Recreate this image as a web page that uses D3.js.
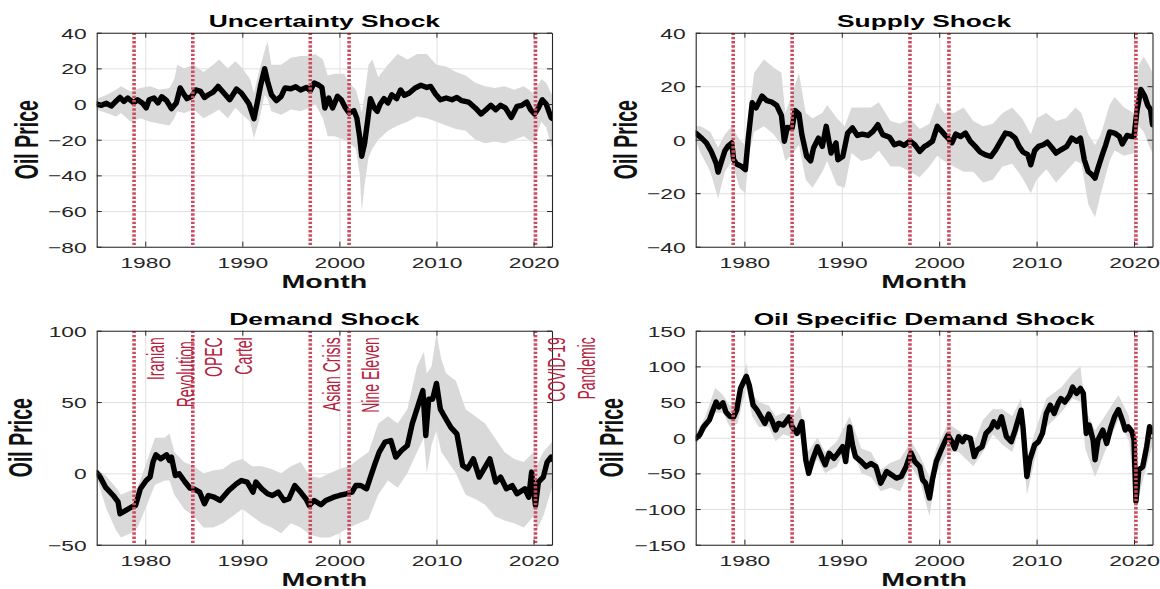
<!DOCTYPE html>
<html>
<head>
<meta charset="utf-8">
<script src="https://cdn.jsdelivr.net/npm/d3@7"></script>
<style>
  html, body { margin: 0; padding: 0; background: #fff; }
  svg { display: block; }
  text { font-family: "Liberation Sans", Arial, Helvetica, sans-serif; }
</style>
</head>
<body>
<svg id="chart" width="1160" height="589"></svg>
<script>
// ---- Data -----------------------------------------------------------------
// Decimal-year time axis shared by all panels
const xDomain = [1975.0, 2021.9];
const yearTicks = [1980, 1990, 2000, 2010, 2020];

// Historical episodes marked with dotted vertical lines
const eventYears = [1978.85, 1984.9, 1997.0, 2001.0, 2020.2];
const eventLabels = [["Iranian", "Revolution."], ["OPEC", "Cartel"], ["Asian Crisis"], ["Nine Eleven"], ["COVID-19", "Pandemic"]];

// Uncertainty shock: [year, response]
const uncertaintyLine = [[1975.0,0],[1975.5,-0.7],[1976.0,0.4],[1976.5,-1.1],[1976.9,1.1],[1977.4,3.7],[1977.8,1.5],[1978.2,3.4],[1978.8,0.7],[1979.2,2.4],[1979.7,0.6],[1980.1,-2.2],[1980.4,2.4],[1980.9,3.4],[1981.3,0.6],[1981.7,4.1],[1982.2,1.9],[1982.7,-2.6],[1983.2,0.6],[1983.6,9.0],[1983.9,6.2],[1984.3,3.0],[1984.8,4.3],[1985.2,7.9],[1985.7,7.1],[1986.1,3.7],[1986.5,5.2],[1987.0,6.7],[1987.5,9.9],[1988.1,6.2],[1988.7,2.4],[1989.4,8.4],[1989.9,6.2],[1990.4,2.4],[1990.7,0],[1991.2,-8.2],[1991.6,2.4],[1991.9,10.8],[1992.3,19.8],[1992.6,12.7],[1993.0,5.2],[1993.5,1.9],[1994.0,4.3],[1994.4,9.0],[1995.0,8.6],[1995.5,9.7],[1996.0,7.9],[1996.6,9.3],[1997.0,7.5],[1997.4,11.8],[1997.9,10.5],[1998.2,9.3],[1998.5,-2.2],[1998.9,3.4],[1999.3,-2.2],[1999.8,4.3],[2000.2,2.4],[2000.6,-1.9],[2001.0,-5.0],[2001.5,-3.7],[2001.8,-7.9],[2002.1,-19],[2002.3,-29.3],[2002.6,-21.9],[2002.9,-9.7],[2003.2,3.0],[2003.6,-2.2],[2003.9,-4.1],[2004.2,0],[2004.6,3.0],[2005.0,0.6],[2005.4,5.2],[2005.9,3.0],[2006.3,7.9],[2006.7,4.9],[2007.2,6.2],[2007.8,9.0],[2008.4,10.5],[2009.0,9.3],[2009.4,9.9],[2009.9,5.6],[2010.4,2.4],[2011.0,3.4],[2011.6,2.4],[2012.1,3.7],[2012.6,1.9],[2013.3,1.1],[2014.0,-2.2],[2014.6,-5.6],[2015.1,-3.2],[2015.6,-0.7],[2016.1,-3.2],[2016.6,-0.7],[2017.1,-2.2],[2017.7,-7.5],[2018.3,-1.3],[2018.8,-0.7],[2019.3,1.1],[2019.7,-3.2],[2020.1,-5.6],[2020.5,-2.2],[2020.9,2.4],[2021.3,0],[2021.8,-7.5],[2021.9,-8]];
// Uncertainty shock band: [year, lower, upper]
const uncertaintyBand = [[1975.0,-3,3],[1976.0,-5,5],[1977.0,-7,8],[1977.5,-5,10],[1978.5,-10,7],[1979.5,-8,9],[1980.5,-10,10],[1981.5,-11,8],[1982.5,-12,9],[1983.0,-8,14],[1983.3,-4,22],[1984.0,-5,20],[1985.0,-3,22],[1986.0,-8,18],[1987.0,-5,22],[1987.6,-3,25],[1988.5,-8,20],[1989.3,-2,24],[1990.0,-6,20],[1990.8,-10,14],[1991.2,-19,6],[1991.7,-10,18],[1992.3,5,30],[1992.6,3,35],[1993.0,-4,22],[1994.0,-6,22],[1995.0,-3,26],[1996.0,-4,27],[1997.0,-2,27],[1997.5,0,28],[1998.3,-8,25],[1998.8,-18,16],[1999.5,-18,17],[2000.5,-20,17],[2001.0,-22,12],[2001.7,-25,8],[2002.1,-40,0],[2002.3,-60,-5],[2002.6,-45,5],[2003.0,-30,22],[2003.4,-25,25],[2004.0,-20,15],[2005.0,-15,22],[2006.0,-12,28],[2007.0,-10,25],[2008.0,-7,28],[2009.0,-8,28],[2010.0,-10,22],[2011.0,-12,21],[2012.0,-14,18],[2013.0,-15,16],[2014.0,-20,12],[2015.0,-22,10],[2016.0,-21,9],[2017.0,-22,10],[2018.0,-20,8],[2019.0,-18,10],[2020.0,-22,6],[2020.8,-10,14],[2021.3,-13,12],[2021.9,-25,5]];
const uncertaintyTicks = [-80, -60, -40, -20, 0, 20, 40];

// Supply shock
const supplyLine = [[1975.0,2.5],[1975.6,0.6],[1976.1,-1.2],[1976.6,-4.4],[1977.1,-8.8],[1977.3,-12.1],[1977.7,-7.5],[1978.0,-4.1],[1978.3,-2.5],[1978.7,-1.2],[1978.9,-7.5],[1979.2,-9.1],[1979.7,-10],[1980.1,-11.2],[1980.4,0.6],[1980.8,13.8],[1981.2,11.9],[1981.8,16.3],[1982.3,14.6],[1982.8,14.1],[1983.3,12.9],[1983.8,9.1],[1984.1,-0.6],[1984.4,4.6],[1984.9,4.4],[1985.2,10.9],[1985.6,9.6],[1985.9,1.9],[1986.4,-6.3],[1986.8,-7.9],[1987.1,-3.1],[1987.6,0.6],[1988.0,-2.5],[1988.4,5.0],[1988.9,-5],[1989.4,-1.2],[1989.6,-7.5],[1990.1,-6.3],[1990.6,2.5],[1991.1,4.4],[1991.6,1.6],[1992.1,2.1],[1992.7,1.6],[1993.2,3.1],[1993.7,5.6],[1994.2,1.9],[1994.9,0.9],[1995.4,-1.9],[1995.9,-1.2],[1996.4,-2.1],[1997.0,-0.4],[1997.5,-1.9],[1998.0,-4.4],[1998.5,-2.5],[1998.8,-1.9],[1999.3,-0.6],[1999.8,5.0],[2000.2,3.4],[2000.5,2.1],[2000.9,0.6],[2001.3,-1.2],[2001.7,2.1],[2002.2,1.2],[2002.7,2.5],[2003.2,-0.6],[2003.7,-2.5],[2004.2,-4.6],[2004.7,-5.6],[2005.3,-6.3],[2005.8,-3.8],[2006.3,-0.6],[2006.8,2.5],[2007.3,2.1],[2007.8,0.6],[2008.2,-2.5],[2008.6,-4.6],[2009.1,-5.6],[2009.4,-9.4],[2009.8,-4.1],[2010.2,-2.5],[2010.7,-1.9],[2011.1,-0.9],[2011.6,-3.1],[2012.0,-5.0],[2012.5,-3.8],[2013.1,-2.5],[2013.6,0.6],[2014.1,-0.6],[2014.5,0.6],[2014.9,-7.5],[2015.3,-11.9],[2015.7,-13.1],[2016.0,-14.4],[2016.3,-10.6],[2016.8,-5],[2017.1,-1.9],[2017.5,2.9],[2018.0,2.5],[2018.5,1.2],[2018.8,-1.6],[2019.3,1.6],[2019.7,1.2],[2020.0,1.2],[2020.3,10.6],[2020.7,18.8],[2021.1,16.3],[2021.4,12.9],[2021.7,11.3],[2021.9,5.6]];
const supplyBand = [[1975.0,0,5],[1975.5,-5,5],[1976.5,-12,3],[1977.3,-22,-3],[1978.0,-12,2],[1978.7,-8,5],[1979.5,-18,0],[1980.1,-20,-2],[1980.5,-5,10],[1981.0,3,25],[1982.0,5,30],[1983.0,2,27],[1983.8,-2,25],[1984.2,-8,10],[1985.0,-5,18],[1985.6,-2,25],[1986.3,-15,10],[1987.0,-18,8],[1988.0,-12,10],[1988.5,-8,13],[1989.5,-17,8],[1990.3,-18,5],[1991.0,-5,12],[1992.0,-8,12],[1993.0,-7,12],[1993.8,-4,14],[1995.0,-10,7],[1996.0,-10,6],[1997.0,-12,8],[1998.0,-14,4],[1999.0,-10,6],[1999.8,-6,14],[2000.5,-8,10],[2001.5,-10,10],[2002.5,-12,12],[2003.5,-12,7],[2004.5,-16,5],[2005.5,-15,6],[2006.5,-10,10],[2007.5,-9,12],[2008.5,-14,8],[2009.4,-20,2],[2010.0,-15,8],[2011.0,-11,10],[2012.0,-16,7],[2013.0,-12,8],[2014.0,-8,12],[2014.6,-9,10],[2015.3,-24,2],[2016.0,-29,-2],[2016.6,-20,2],[2017.5,-8,13],[2018.0,-4,16],[2019.0,-6,12],[2020.0,-5,10],[2020.5,5,28],[2021.0,3,31],[2021.5,-2,28],[2021.9,-5,25]];
const supplyTicks = [-40, -20, 0, 20, 40];

// Demand shock
const demandLine = [[1975.0,0.5],[1975.4,-3],[1975.9,-9.6],[1976.7,-15.5],[1977.2,-20],[1977.4,-28.3],[1978.0,-26],[1978.6,-23.6],[1979.0,-22.5],[1979.5,-10.8],[1980.1,-5],[1980.5,-2.6],[1980.8,7.9],[1981.1,13],[1981.6,10.2],[1982.2,13],[1982.5,9],[1982.7,11.4],[1983.1,-1.5],[1983.5,-0.3],[1984.1,-6.1],[1984.6,-10.3],[1985.0,-10.8],[1985.6,-13.1],[1986.1,-21.3],[1986.5,-15.5],[1987.1,-16.7],[1987.7,-19],[1988.0,-16.7],[1988.6,-12],[1989.4,-7.3],[1989.9,-5],[1990.5,-6.1],[1991.1,-13.1],[1991.4,-6.1],[1992.0,-10.8],[1992.6,-14.3],[1993.1,-15.5],[1993.7,-13.1],[1994.3,-19],[1994.8,-17.8],[1995.4,-8.5],[1996.0,-13.1],[1996.6,-18.3],[1996.9,-22.5],[1997.4,-19],[1998.1,-22],[1998.6,-19],[1999.4,-16.7],[2000.0,-15.5],[2000.7,-14.3],[2001.3,-13.1],[2001.7,-8.5],[2002.2,-8.5],[2002.8,-10.8],[2003.2,-2.6],[2003.6,5.5],[2004.1,14.9],[2004.7,21.9],[2005.3,23],[2005.8,11.4],[2006.4,16],[2007.0,19.5],[2007.5,34.7],[2008.1,47.5],[2008.6,58],[2008.9,26.5],[2009.2,52],[2009.6,52],[2010.0,63],[2010.4,45],[2010.9,39],[2011.5,32],[2012.1,27.7],[2012.7,5.5],[2013.2,3.2],[2013.8,10.2],[2014.4,-2.6],[2014.9,3.2],[2015.5,10.2],[2016.1,-6.1],[2016.6,-2.6],[2017.2,-10.8],[2017.8,-8.5],[2018.3,-14.3],[2019.1,-10.8],[2019.5,-16.7],[2019.8,0.9],[2020.2,-22.5],[2020.5,-6.1],[2021.0,-2.6],[2021.4,7.9],[2021.8,11.4],[2021.9,10]];
const demandBand = [[1975.0,-3,3],[1976.0,-25,-2],[1977.0,-40,-10],[1977.5,-45,-15],[1978.5,-42,-12],[1979.2,-38,-10],[1980.0,-25,5],[1981.0,-8,25],[1982.0,-5,25],[1982.5,-5,28],[1983.0,-15,15],[1984.0,-25,8],[1985.0,-30,5],[1986.0,-38,0],[1987.0,-38,2],[1988.0,-35,3],[1989.0,-30,8],[1990.0,-25,10],[1991.0,-30,5],[1992.0,-35,5],[1993.0,-38,3],[1994.0,-42,0],[1995.0,-35,5],[1996.0,-38,8],[1997.0,-43,-2],[1998.0,-45,-3],[1999.0,-45,0],[2000.0,-42,3],[2001.0,-38,5],[2002.0,-35,10],[2003.0,-32,15],[2004.0,-15,35],[2005.0,-5,40],[2006.0,-10,35],[2007.0,0,45],[2008.0,15,75],[2008.7,25,85],[2009.0,0,70],[2009.5,20,75],[2010.0,30,98],[2010.5,15,80],[2011.0,10,70],[2012.0,0,65],[2013.0,-15,45],[2014.0,-18,40],[2015.0,-22,35],[2016.0,-30,25],[2017.0,-33,15],[2018.0,-35,10],[2019.0,-38,8],[2020.0,-30,15],[2020.3,-40,5],[2021.0,-30,15],[2021.9,-10,22]];
const demandTicks = [-50, 0, 50, 100];

// Oil specific demand shock
const oilSpecificLine = [[1975.0,-1],[1975.4,3.7],[1975.8,15],[1976.1,20],[1976.4,24.7],[1976.7,36],[1977.1,50],[1977.4,43],[1977.8,49],[1978.1,36],[1978.5,30],[1978.9,29],[1979.2,38.6],[1979.6,69],[1979.9,78],[1980.2,86],[1980.5,73.5],[1980.9,45.6],[1981.3,38.6],[1981.8,27],[1982.1,20],[1982.5,33],[1982.8,24.7],[1983.2,10.7],[1983.5,20],[1984.0,17.7],[1984.6,29],[1984.9,15],[1985.4,6],[1985.9,22.3],[1986.3,-31],[1986.6,-50],[1987.0,-31],[1987.5,-12.6],[1988.0,-29],[1988.3,-38],[1988.7,-22],[1989.2,-29],[1989.6,-22],[1990.1,-12.6],[1990.4,-33.5],[1990.8,15],[1991.1,-10],[1991.4,-26.5],[1992.0,-33.5],[1992.5,-40.5],[1993.0,-36],[1993.5,-40.5],[1994.0,-63.7],[1994.6,-47.4],[1995.1,-52],[1995.6,-56.7],[1996.1,-54.4],[1996.6,-40.5],[1997.1,-21],[1997.5,-33.5],[1998.0,-40.5],[1998.3,-59],[1998.6,-63.7],[1999.0,-84.7],[1999.3,-59],[1999.7,-33.5],[2000.2,-17.2],[2000.5,-7.9],[2000.9,3.7],[2001.3,-5.6],[2001.6,-15],[2002.0,1.4],[2002.4,-5.6],[2002.7,1.4],[2003.2,-1],[2003.6,-26.5],[2003.9,-17.2],[2004.4,-12.6],[2004.8,6],[2005.3,13],[2005.6,22.3],[2006.0,15.3],[2006.4,29.3],[2006.9,1.4],[2007.4,-5.6],[2007.8,10.7],[2008.1,24.7],[2008.4,38.6],[2008.6,15.3],[2009.0,-54.4],[2009.3,-31],[2009.8,-10],[2010.2,-5.6],[2010.6,6],[2011.0,34],[2011.4,45.6],[2011.8,34],[2012.2,48],[2012.5,55],[2012.9,50],[2013.4,59.5],[2013.7,71],[2014.1,62],[2014.5,69],[2014.8,62],[2015.1,6],[2015.4,17.7],[2015.8,-3.3],[2016.0,-31],[2016.3,-3.3],[2016.8,10.7],[2017.2,-8],[2017.6,13],[2018.0,29.3],[2018.4,39.5],[2018.8,24.7],[2019.1,10.7],[2019.4,15.3],[2019.8,8.4],[2020.0,-3.3],[2020.2,-89],[2020.5,-45],[2020.9,-40.5],[2021.3,-12.6],[2021.6,15.3],[2021.9,8.4]];
const oilSpecificBand = [[1975.0,-10,5],[1976.0,10,30],[1977.0,35,70],[1977.8,35,60],[1978.5,15,45],[1979.3,20,50],[1980.2,70,105],[1980.8,30,60],[1981.5,15,50],[1982.5,15,45],[1983.2,-5,30],[1984.0,5,35],[1985.0,0,30],[1985.7,5,45],[1986.5,-55,-20],[1987.5,-30,0],[1988.3,-50,-20],[1989.5,-40,-5],[1990.8,-5,30],[1992.0,-50,-15],[1993.0,-55,-20],[1994.0,-75,-45],[1995.0,-70,-35],[1996.0,-75,-30],[1997.1,-40,-5],[1998.0,-60,-25],[1999.0,-110,-55],[1999.7,-50,-15],[2000.9,-20,20],[2002.0,-20,10],[2003.5,-40,-10],[2004.5,-20,25],[2005.5,5,40],[2006.5,-10,40],[2007.5,-20,30],[2008.4,20,55],[2009.0,-80,-30],[2010.0,-20,15],[2011.0,15,55],[2012.5,35,70],[2013.7,55,90],[2014.5,50,100],[2015.0,-15,40],[2016.0,-55,10],[2017.0,-20,30],[2018.4,25,60],[2019.5,-5,30],[2020.2,-100,-60],[2021.0,-55,-20],[2021.9,-10,25]];
const oilSpecificTicks = [-150, -100, -50, 0, 50, 100, 150];

// ---- Layout ---------------------------------------------------------------
const SX = 1.55;           // horizontal text stretch of the figure
const TICK_SX = 1.5;
const colors = { band: "#d9d9d9", line: "#000000", grid: "#e0e0e0", axis: "#262626", event: "#cd4a61", note: "#b4213d" };

const panels = [
  { title: "Uncertainty Shock", line: uncertaintyLine, band: uncertaintyBand, yTicks: uncertaintyTicks,
    box: { l: 96.7, r: 552, t: 32.7, b: 246.7 }, ylabGap: 59, notes: false },
  { title: "Supply Shock", line: supplyLine, band: supplyBand, yTicks: supplyTicks,
    box: { l: 695.7, r: 1152.5, t: 32.7, b: 246.7 }, ylabGap: 59, notes: false },
  { title: "Demand Shock", line: demandLine, band: demandBand, yTicks: demandTicks,
    box: { l: 96.7, r: 552, t: 330.7, b: 544.7 }, ylabGap: 65, notes: true },
  { title: "Oil Specific Demand Shock", line: oilSpecificLine, band: oilSpecificBand, yTicks: oilSpecificTicks,
    box: { l: 695.7, r: 1152.5, t: 330.7, b: 544.7 }, ylabGap: 73, notes: false }
];

const svg = d3.select("#chart");

function stretch(sel, x, y, rot, sx = SX) {
  sel.attr("transform", `translate(${x},${y}) scale(${sx},1)` + (rot ? ` rotate(${rot})` : ""));
  return sel;
}

panels.forEach((p, i) => {
  const { l, r, t, b } = p.box;
  const yTicks = p.yTicks;
  const x = d3.scaleLinear().domain(xDomain).range([l, r]);
  const y = d3.scaleLinear().domain(d3.extent(yTicks)).range([b, t]);
  const g = svg.append("g");

  // grid
  const grid = g.append("g").attr("class", "grid");
  grid.append("g").attr("transform", `translate(0,${b})`)
    .call(d3.axisBottom(x).tickValues(yearTicks).tickSize(-(b - t)).tickFormat(""))
    .call(s => s.select(".domain").remove());
  grid.append("g").attr("transform", `translate(${l},0)`)
    .call(d3.axisLeft(y).tickValues(yTicks).tickSize(-(r - l)).tickFormat(""))
    .call(s => s.select(".domain").remove());
  grid.selectAll("line").attr("stroke", colors.grid).attr("stroke-width", 1);

  // clip region
  const clipId = "clip" + i;
  g.append("clipPath").attr("id", clipId)
    .append("rect").attr("x", l).attr("y", t).attr("width", r - l).attr("height", b - t);
  const plot = g.append("g").attr("clip-path", `url(#${clipId})`);

  // confidence band
  plot.append("path").datum(p.band)
    .attr("fill", colors.band)
    .attr("d", d3.area().x(d => x(d[0])).y0(d => y(d[1])).y1(d => y(d[2])));

  // median response
  plot.append("path").datum(p.line)
    .attr("fill", "none").attr("stroke", colors.line).attr("stroke-width", 5.4)
    .attr("stroke-linejoin", "round").attr("stroke-linecap", "round")
    .attr("d", d3.line().x(d => x(d[0])).y(d => y(d[1])));

  // event markers
  plot.selectAll(".event").data(eventYears).join("line")
    .attr("x1", d => x(d)).attr("x2", d => x(d)).attr("y1", t).attr("y2", b)
    .attr("stroke", colors.event).attr("stroke-width", 3.6).attr("stroke-dasharray", "2.4,1.8");

  // axes with inward ticks on all sides
  const axB = g.append("g").attr("transform", `translate(0,${b})`)
    .call(d3.axisBottom(x).tickValues(yearTicks).tickSizeInner(-5).tickSizeOuter(0).tickFormat(d3.format("d")));
  const axL = g.append("g").attr("transform", `translate(${l},0)`)
    .call(d3.axisLeft(y).tickValues(yTicks).tickSizeInner(-5).tickSizeOuter(0).tickFormat(d3.format("d")));
  const axT = g.append("g").attr("transform", `translate(0,${t})`)
    .call(d3.axisTop(x).tickValues(yearTicks).tickSizeInner(-5).tickSizeOuter(0).tickFormat(""));
  const axR = g.append("g").attr("transform", `translate(${r},0)`)
    .call(d3.axisRight(y).tickValues(yTicks).tickSizeInner(-5).tickSizeOuter(0).tickFormat(""));
  [axB, axL, axT, axR].forEach(a => {
    a.selectAll("path.domain").attr("stroke", colors.axis).attr("stroke-width", 1.1);
    a.selectAll(".tick line").attr("stroke", colors.axis).attr("stroke-width", 1);
    a.attr("font-family", null);
  });
  axB.selectAll(".tick text")
    .attr("y", 21.6).attr("dy", null)
    .attr("font-size", 15.2).style("fill", colors.axis)
    .attr("transform", `scale(${TICK_SX},1)`);
  axL.selectAll(".tick text")
    .attr("x", -10 / TICK_SX).attr("dy", "0.36em")
    .attr("font-size", 15.2).style("fill", colors.axis)
    .attr("transform", `scale(${TICK_SX},1)`);

  // titles and axis labels
  stretch(g.append("text").text(p.title), (l + r) / 2, t - 5.5)
    .attr("text-anchor", "middle").attr("font-weight", "bold").attr("font-size", 17).style("fill", "#000");
  stretch(g.append("text").text("Month"), (l + r) / 2, b + 41)
    .attr("text-anchor", "middle").attr("font-weight", "bold").attr("font-size", 18.5).style("fill", "#111");
  stretch(g.append("text").text("Oil Price"), l - p.ylabGap, (t + b) / 2, -90, 1.7)
    .attr("text-anchor", "middle").attr("font-weight", "bold").attr("font-size", 19.5).style("fill", "#111");

  // episode annotations
  if (p.notes) {
    eventYears.forEach((ev, k) => {
      eventLabels[k].forEach((txt, j) => {
        stretch(g.append("text").text(txt), x(ev) + 21 + 30 * j + 8.5, t + 6.6, -90, 1.7)
          .attr("text-anchor", "end").attr("font-size", 14).style("fill", colors.note);
      });
    });
  }
});
</script>
</body>
</html>
